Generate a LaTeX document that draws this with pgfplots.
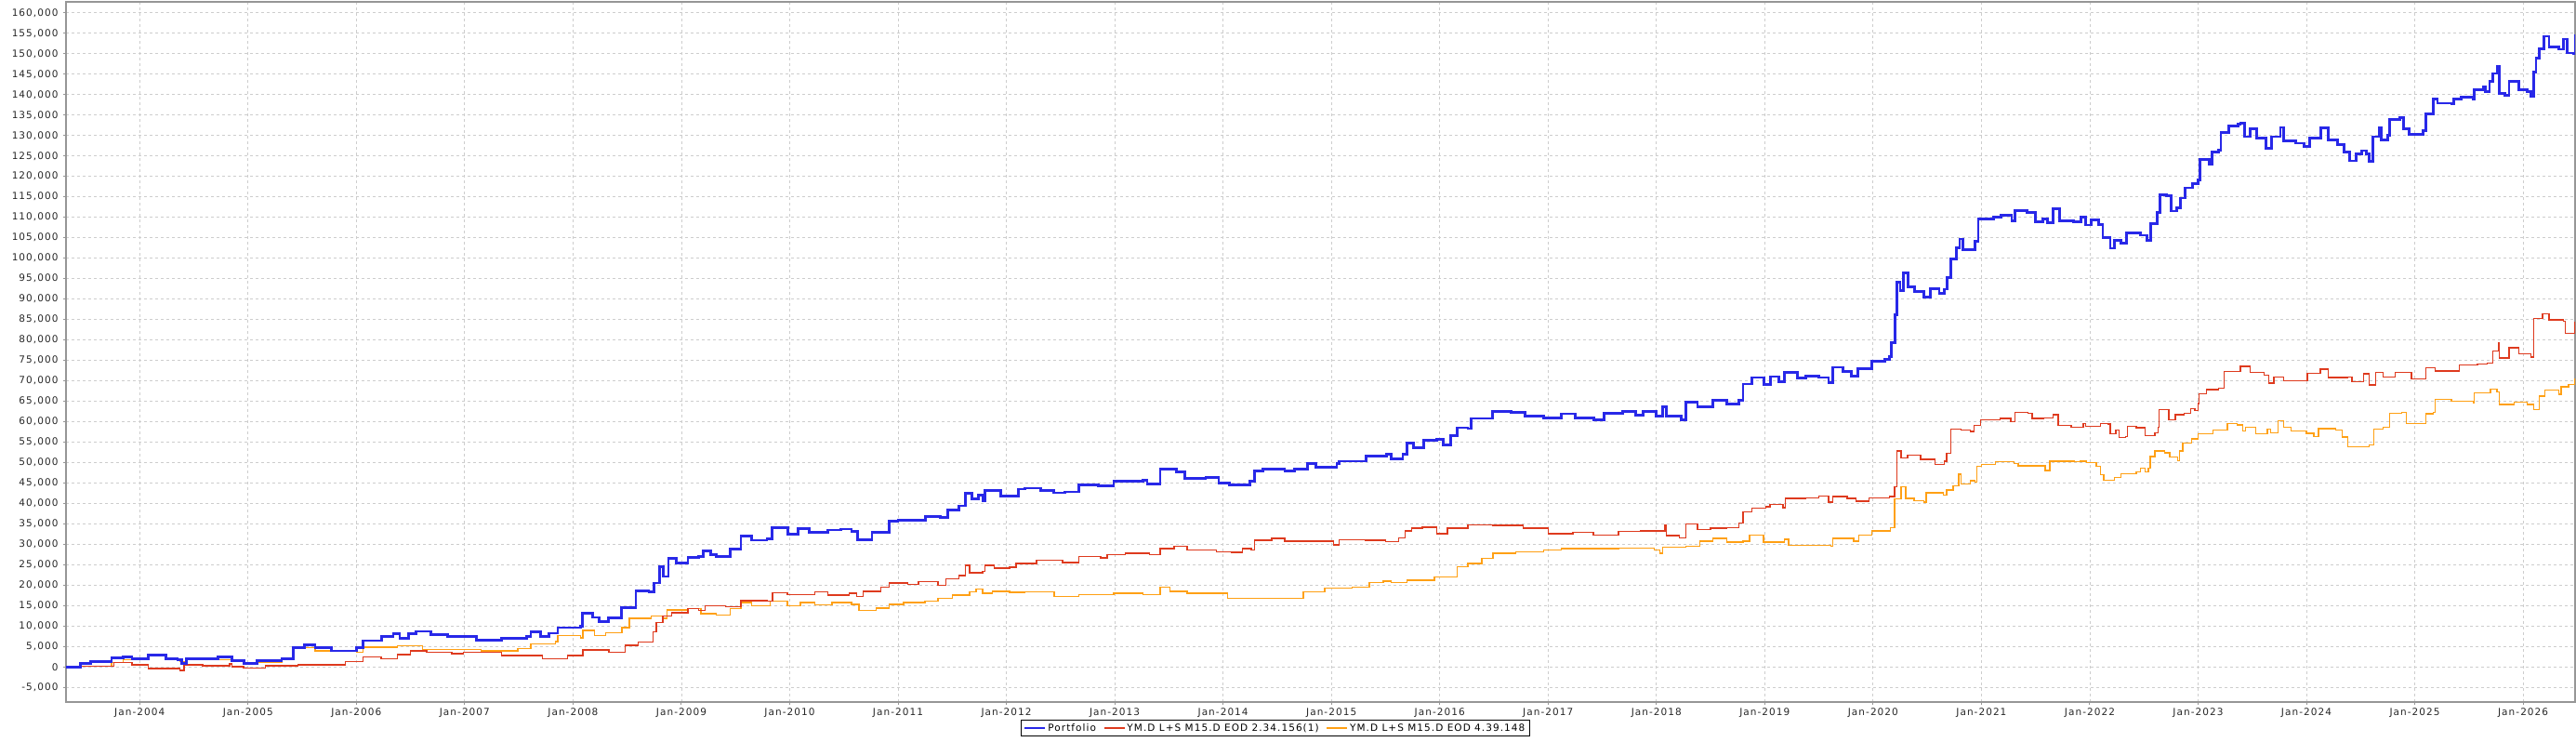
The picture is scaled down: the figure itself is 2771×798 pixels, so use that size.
\documentclass[border=0pt]{standalone}
\usepackage{fontspec}
\setmainfont{DejaVu Sans}[LetterSpace=10]
\usepackage{pgfplots}
\usepackage{pgfplotstable}
\pgfplotsset{compat=1.18}
\definecolor{pblue}{RGB}{40,40,232}
\definecolor{pred}{RGB}{222,58,30}
\definecolor{porange}{RGB}{255,160,20}
\definecolor{gridgray}{RGB}{205,205,205}
\definecolor{axisgray}{RGB}{150,150,150}

\pgfplotstableread{
x y
2003.32 0
2003.45 900
2003.55 1300
2003.74 2270
2003.85 2400
2003.93 1900
2004.08 2800
2004.24 1900
2004.35 1700
2004.39 900
2004.43 2000
2004.58 2000
2004.72 2400
2004.85 1500
2004.96 900
2005.08 1500
2005.31 2000
2005.42 4700
2005.52 5300
2005.62 4700
2005.77 3900
2006.00 4700
2006.06 6400
2006.23 7350
2006.34 8100
2006.40 7000
2006.48 8100
2006.55 8700
2006.69 7900
2006.84 7500
2007.11 6600
2007.34 7000
2007.57 7350
2007.61 8500
2007.70 7350
2007.78 8250
2007.86 9600
2008.07 10000
2008.09 13200
2008.18 12100
2008.24 11100
2008.33 11900
2008.45 14500
2008.58 18500
2008.70 18300
2008.75 20500
2008.80 24500
2008.83 22100
2008.88 26500
2008.95 25500
2009.06 26800
2009.16 27000
2009.20 28400
2009.27 27500
2009.32 27000
2009.45 28900
2009.55 32000
2009.65 31000
2009.79 31400
2009.84 34100
2009.98 32500
2010.08 33900
2010.18 32900
2010.35 33500
2010.47 33700
2010.57 33100
2010.63 31100
2010.76 32900
2010.92 35600
2011.00 35900
2011.17 35900
2011.25 36700
2011.39 36500
2011.46 38400
2011.56 39400
2011.62 42400
2011.68 41100
2011.74 42000
2011.78 40700
2011.80 43200
2011.95 41800
2012.11 43500
2012.17 43700
2012.32 43200
2012.44 42600
2012.54 42800
2012.67 44500
2012.85 44200
2012.99 45500
2013.26 45600
2013.30 44800
2013.42 48400
2013.57 47700
2013.65 46200
2013.84 46400
2013.96 45000
2014.06 44500
2014.25 45500
2014.29 47900
2014.37 48400
2014.57 47900
2014.66 48400
2014.78 49800
2014.86 48800
2015.05 49800
2015.07 50300
2015.32 51500
2015.51 52000
2015.55 50900
2015.66 52000
2015.70 54700
2015.76 53600
2015.85 55500
2015.97 55600
2016.03 54300
2016.10 56600
2016.16 58500
2016.26 58300
2016.29 60800
2016.49 62400
2016.66 62300
2016.79 61400
2016.96 60900
2017.12 61900
2017.25 60900
2017.42 60400
2017.52 62100
2017.69 62400
2017.81 61500
2017.88 62400
2018.00 61400
2018.06 63600
2018.09 61400
2018.23 60400
2018.27 64700
2018.38 63600
2018.52 65300
2018.65 64400
2018.76 65300
2018.80 69200
2018.88 70800
2018.99 69100
2019.05 71000
2019.13 69700
2019.18 72100
2019.30 70600
2019.38 71200
2019.50 70800
2019.59 69500
2019.63 73300
2019.72 72300
2019.80 71200
2019.86 72900
2019.99 74800
2020.11 75300
2020.15 75900
2020.17 79300
2020.20 86100
2020.22 94100
2020.25 92000
2020.28 96400
2020.32 93000
2020.38 91800
2020.47 90500
2020.53 92600
2020.61 91400
2020.66 92400
2020.68 95200
2020.72 99800
2020.77 102500
2020.80 104700
2020.83 102000
2020.94 104100
2020.97 109600
2021.11 110000
2021.18 110400
2021.28 109100
2021.31 111700
2021.42 111200
2021.50 108900
2021.57 109600
2021.61 108600
2021.66 112100
2021.72 109100
2021.85 108900
2021.92 110000
2021.96 108100
2022.01 109400
2022.08 108300
2022.12 105100
2022.19 102400
2022.23 104300
2022.29 103600
2022.34 106200
2022.47 105600
2022.53 104300
2022.56 108500
2022.62 111100
2022.65 115500
2022.71 115300
2022.75 111500
2022.80 112400
2022.84 114700
2022.88 117200
2022.95 118300
2023.00 119200
2023.02 124200
2023.08 124200
2023.10 122900
2023.13 125900
2023.19 126500
2023.21 130800
2023.28 132300
2023.37 132700
2023.39 133100
2023.43 129700
2023.48 131600
2023.54 129300
2023.63 126800
2023.68 129700
2023.76 132000
2023.79 128600
2023.90 128100
2023.98 127400
2024.03 129300
2024.13 131800
2024.20 128900
2024.29 127800
2024.35 125900
2024.40 123800
2024.46 125500
2024.51 126300
2024.55 125500
2024.58 123600
2024.61 129700
2024.67 132000
2024.69 128900
2024.75 130100
2024.77 133900
2024.86 134400
2024.90 131600
2024.95 130300
2025.08 131100
2025.10 135200
2025.15 135200
2025.17 138900
2025.21 137900
2025.34 137700
2025.36 138900
2025.43 139400
2025.54 138800
2025.55 141200
2025.63 141800
2025.65 140700
2025.69 143200
2025.72 145200
2025.76 147000
2025.78 140300
2025.83 139900
2025.87 143300
2025.96 141200
2026.04 140700
2026.07 139500
2026.10 145600
2026.12 149000
2026.15 151300
2026.19 154300
2026.24 151700
2026.33 151100
2026.37 153600
2026.41 150200
2026.47 150000
2026.48 154800
}\portfolio

\pgfplotstableread{
x y
2003.32 150
2003.74 150
2003.76 1060
2003.93 500
2004.08 -450
2004.37 -830
2004.41 500
2004.58 300
2004.83 760
2004.85 0
2004.96 -230
2005.16 300
2005.46 500
2005.90 1300
2006.06 2400
2006.23 2000
2006.38 3000
2006.50 3900
2006.65 3600
2006.88 3200
2006.99 3600
2007.34 2800
2007.72 2000
2007.95 2800
2008.09 4100
2008.33 3600
2008.48 5300
2008.60 6100
2008.74 8600
2008.77 10800
2008.83 12400
2008.91 13200
2009.06 14200
2009.16 13800
2009.22 14900
2009.41 14700
2009.55 16200
2009.79 16100
2009.84 18100
2009.98 17700
2010.23 18300
2010.35 17600
2010.55 18000
2010.62 17200
2010.68 18500
2010.84 19500
2010.92 20500
2011.09 20200
2011.19 20800
2011.37 20000
2011.44 21500
2011.56 22300
2011.62 24800
2011.66 23000
2011.78 23300
2011.80 24800
2011.89 24200
2012.03 24400
2012.09 25300
2012.28 26100
2012.52 25500
2012.67 27000
2012.87 26700
2012.93 27400
2013.10 27800
2013.32 27400
2013.42 28900
2013.55 29500
2013.67 28600
2013.94 28200
2014.08 28000
2014.18 28900
2014.26 28600
2014.29 31000
2014.45 31400
2014.57 30800
2015.02 29800
2015.07 31100
2015.31 31000
2015.50 30700
2015.62 31600
2015.68 33300
2015.74 33900
2015.84 34200
2015.97 32600
2016.07 33900
2016.26 34800
2016.49 34600
2016.77 33900
2017.00 32600
2017.23 32900
2017.42 32300
2017.65 33100
2017.85 33300
2018.08 34600
2018.09 32100
2018.21 31600
2018.27 35000
2018.38 33600
2018.50 33900
2018.65 34100
2018.76 35200
2018.80 37900
2018.88 38800
2019.01 39200
2019.05 39700
2019.17 38900
2019.19 41200
2019.38 41400
2019.50 41800
2019.59 40300
2019.63 41700
2019.76 41200
2019.84 40500
2019.96 41400
2020.15 41700
2020.20 44100
2020.22 52800
2020.26 51100
2020.32 51800
2020.44 50800
2020.57 49500
2020.66 50300
2020.68 52300
2020.72 58100
2020.81 57900
2020.90 57600
2020.93 59100
2020.99 60400
2021.17 60800
2021.27 60000
2021.31 62200
2021.43 62100
2021.47 60800
2021.57 60900
2021.66 61700
2021.71 59100
2021.83 58600
2021.94 59600
2021.96 58900
2022.10 59600
2022.17 59400
2022.19 57000
2022.24 57900
2022.27 56100
2022.33 56400
2022.35 58900
2022.43 58500
2022.51 56600
2022.60 57300
2022.63 58600
2022.64 62900
2022.71 62900
2022.73 60400
2022.79 61700
2022.87 62100
2022.93 63200
2022.97 62700
2023.00 64400
2023.01 66800
2023.08 67800
2023.19 68200
2023.24 72300
2023.39 73500
2023.48 72000
2023.61 71300
2023.65 69400
2023.70 70900
2023.79 70000
2023.90 70000
2024.01 71800
2024.13 72800
2024.20 70800
2024.38 70900
2024.42 69800
2024.53 71700
2024.58 69000
2024.64 72000
2024.71 70900
2024.82 72000
2024.97 70500
2025.10 73200
2025.19 72400
2025.36 72400
2025.41 73900
2025.58 74100
2025.67 74300
2025.72 77300
2025.77 79300
2025.78 75600
2025.87 78100
2025.96 76600
2026.07 75800
2026.10 85200
2026.18 86400
2026.24 84900
2026.37 84500
2026.39 81600
2026.47 81600
2026.48 84400
}\seriesred

\pgfplotstableread{
x y
2003.32 150
2003.74 1060
2003.85 1700
2004.08 3000
2004.24 2000
2004.37 1300
2004.43 1800
2004.89 1400
2004.96 1060
2005.31 1800
2005.42 4700
2005.62 3900
2006.00 3600
2006.06 4800
2006.38 5100
2006.61 4300
2007.15 3900
2007.49 4500
2007.61 5600
2007.84 6200
2007.86 7600
2008.07 7100
2008.09 8900
2008.20 7600
2008.30 8300
2008.45 9600
2008.52 11900
2008.72 12400
2008.83 11900
2008.87 13900
2009.06 14200
2009.18 13000
2009.32 12700
2009.45 14200
2009.55 15700
2009.65 14900
2009.82 16100
2009.98 14900
2010.10 15700
2010.23 15200
2010.39 15700
2010.57 15300
2010.64 13800
2010.80 14400
2010.92 15300
2011.05 15700
2011.25 16100
2011.37 16800
2011.50 17600
2011.66 18300
2011.72 19100
2011.78 18000
2011.87 18500
2012.03 18200
2012.17 18300
2012.44 17200
2012.67 17700
2012.99 18000
2013.26 17700
2013.42 19500
2013.51 18500
2013.67 18000
2014.04 16800
2014.53 16700
2014.74 18300
2014.94 19200
2015.19 19500
2015.35 20600
2015.48 21000
2015.55 20600
2015.70 21200
2015.95 22000
2016.16 24500
2016.26 25300
2016.39 26500
2016.49 27800
2016.70 28200
2016.96 28600
2017.12 28900
2017.65 29100
2017.98 28600
2018.03 27800
2018.06 29300
2018.27 29500
2018.40 30800
2018.52 31400
2018.65 30500
2018.80 30800
2018.86 32300
2018.99 30500
2019.18 31200
2019.22 29700
2019.61 29500
2019.63 31400
2019.82 30800
2019.87 32300
2019.99 33300
2020.16 34100
2020.20 41100
2020.26 44100
2020.30 41200
2020.38 40700
2020.47 40300
2020.49 42600
2020.65 42000
2020.68 43300
2020.74 44300
2020.79 47100
2020.81 44700
2020.90 45500
2020.94 45200
2020.96 49000
2021.00 49500
2021.13 50200
2021.30 49800
2021.34 49200
2021.51 49200
2021.59 48000
2021.63 50300
2021.86 50200
2021.91 50300
2021.97 50000
2022.06 49000
2022.10 47000
2022.13 45600
2022.23 46400
2022.29 47300
2022.43 47700
2022.47 48600
2022.51 47700
2022.54 48600
2022.56 51500
2022.60 52800
2022.69 52400
2022.74 51300
2022.81 50500
2022.83 52800
2022.86 54800
2022.94 55800
2023.00 57000
2023.14 57900
2023.27 59600
2023.36 59200
2023.41 57700
2023.44 58600
2023.53 57000
2023.64 58100
2023.67 57300
2023.74 60200
2023.79 58600
2023.86 57700
2024.00 57100
2024.07 56400
2024.11 58300
2024.27 57900
2024.33 56200
2024.38 53900
2024.58 54300
2024.62 58100
2024.71 58600
2024.77 62100
2024.88 62300
2024.92 59600
2025.08 59600
2025.10 61900
2025.17 62300
2025.19 65500
2025.34 65000
2025.54 64500
2025.55 67000
2025.70 68000
2025.76 67200
2025.78 64200
2025.92 64700
2026.04 64200
2026.10 63000
2026.15 66200
2026.20 67700
2026.33 66700
2026.35 68500
2026.42 69100
2026.48 70500
}\seriesorange

\begin{document}
\begin{tikzpicture}
\useasboundingbox (0,0) rectangle (2771bp,798bp);
\begin{axis}[
  at={(71bp,43bp)}, anchor=south west,
  scale only axis, width=2699bp, height=753bp,
  xmin=2003.32, xmax=2026.48, ymin=-8600, ymax=162700,
  axis line style={draw=axisgray, line width=1.2bp},
  xtick={2004,2005,2006,2007,2008,2009,2010,2011,2012,2013,2014,2015,2016,2017,2018,2019,2020,2021,2022,2023,2024,2025,2026},
  xticklabels={Jan-2004,Jan-2005,Jan-2006,Jan-2007,Jan-2008,Jan-2009,Jan-2010,Jan-2011,Jan-2012,Jan-2013,Jan-2014,Jan-2015,Jan-2016,Jan-2017,Jan-2018,Jan-2019,Jan-2020,Jan-2021,Jan-2022,Jan-2023,Jan-2024,Jan-2025,Jan-2026},
  ytick={-5000,0,5000,10000,15000,20000,25000,30000,35000,40000,45000,50000,55000,60000,65000,70000,75000,80000,85000,90000,95000,100000,105000,110000,115000,120000,125000,130000,135000,140000,145000,150000,155000,160000},
  scaled y ticks=false,
  yticklabel style={xshift=-2bp, /pgf/number format/fixed, /pgf/number format/1000 sep={,}, /pgf/number format/assume math mode=true},
  grid=major,
  major grid style={dash pattern=on 3bp off 3bp, draw=gridgray, line width=0.8bp},
  tick align=outside, major tick length=3bp,
  xtick pos=lower, ytick pos=left,
  tick style={draw=axisgray, line width=1bp},
  tick label style={font=\fontsize{10.5bp}{12bp}\selectfont, text=black!85},
  legend columns=3,
  legend style={at={(0.482,-0.025)}, anchor=north, draw=black, line width=1.2bp,
    font=\fontsize{10.5bp}{12bp}\selectfont, inner xsep=3bp, inner ysep=2bp,
    /tikz/every even column/.append style={column sep=6bp}},
  legend image code/.code={\draw[#1] (0bp,0bp) -- (22bp,0bp);},
]
\addlegendimage{pblue, line width=2bp}
\addlegendentry{Portfolio}
\addlegendimage{pred, line width=1.4bp}
\addlegendentry{YM.D L+S M15.D EOD 2.34.156(1)}
\addlegendimage{porange, line width=1.4bp}
\addlegendentry{YM.D L+S M15.D EOD 4.39.148}
\addplot[porange, line width=1.4bp, const plot, forget plot] table[x=x,y=y] {\seriesorange};
\addplot[pred, line width=1.4bp, const plot, forget plot] table[x=x,y=y] {\seriesred};
\addplot[pblue, line width=2.8bp, const plot, forget plot] table[x=x,y=y] {\portfolio};
\end{axis}
\end{tikzpicture}
\end{document}
